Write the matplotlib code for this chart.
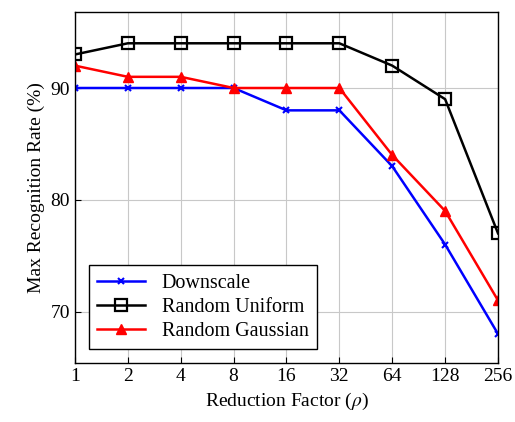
import numpy as np
import matplotlib.pyplot as plt

plt.rcParams['font.family'] = 'Liberation Serif'
plt.rcParams['mathtext.fontset'] = 'stix'

factors = ['1', '2', '4', '8', '16', '32', '64', '128', '256']
downscale = [90, 90, 90, 90, 88, 88, 83, 76, 68]
uniform = [93, 94, 94, 94, 94, 94, 92, 89, 77]
gaussian = [92, 91, 91, 90, 90, 90, 84, 79, 71]

x = np.arange(len(factors))

fig = plt.figure(figsize=(5.15, 4.22), dpi=100)
ax = fig.add_axes([0.1456, 0.1398, 0.8214, 0.8318])

ax.plot(x, downscale, color='blue', marker='x', markersize=5, mew=1.5, lw=1.8, label='Downscale')
ax.plot(x, uniform, color='black', marker='s', markersize=8, mfc='none', mew=1.6, lw=1.8, label='Random Uniform')
ax.plot(x, gaussian, color='red', marker='^', markersize=7.5, lw=1.8, label='Random Gaussian')

ax.set_xlim(0, 8)
ax.set_ylim(65.4, 96.8)
ax.set_xticks(x)
ax.set_xticklabels(factors)
ax.set_yticks([70, 80, 90])
ax.grid(True, color='#c8c8c8', lw=0.8)
ax.tick_params(direction='in', labelsize=14, length=4)
for s in ax.spines.values():
    s.set_linewidth(1.0)

ax.set_xlabel(r'Reduction Factor ($\rho$)', fontsize=14)
ax.set_ylabel('Max Recognition Rate (%)', fontsize=14)

leg = ax.legend(loc='lower left', fontsize=14.5, fancybox=False, framealpha=1,
                edgecolor='black', borderaxespad=0.7, handlelength=2.4,
                labelspacing=0.25, borderpad=0.4)
leg.get_frame().set_linewidth(1.0)

fig.savefig('out.png', dpi=100)
